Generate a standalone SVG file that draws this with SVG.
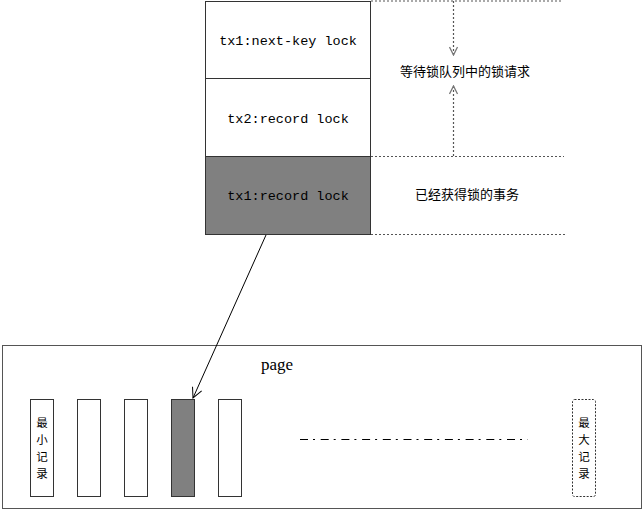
<svg xmlns="http://www.w3.org/2000/svg" width="644" height="511" viewBox="0 0 644 511">
<style>
.mono{font-family:"Liberation Mono","DejaVu Sans Mono",monospace;font-size:13.5px;fill:#000;text-anchor:middle}
.cjk{font-family:"Noto Sans CJK SC","Noto Sans",sans-serif;font-size:13px;fill:#000;text-anchor:middle}
.vt{font-family:"Noto Sans CJK SC","Noto Sans",sans-serif;font-size:11.5px;fill:#000;text-anchor:middle}
.dot{stroke:#555;stroke-width:1.2;stroke-dasharray:2 2;fill:none}
.rec{fill:#fff;stroke:#333;stroke-width:1}
</style>
<defs>
<marker id="openv" viewBox="0 0 10 10" refX="9" refY="5" markerWidth="10" markerHeight="10" markerUnits="userSpaceOnUse" orient="auto">
<path d="M1,1 L9,5 L1,9" fill="none" stroke="#777" stroke-width="1.3"/>
</marker>
<marker id="arr" viewBox="0 0 12 12" refX="11" refY="6" markerWidth="12" markerHeight="12" markerUnits="userSpaceOnUse" orient="auto">
<path d="M1,1 L11,6 L1,11" fill="none" stroke="#000" stroke-width="1"/>
</marker>
</defs>
<rect width="644" height="511" fill="#fff"/>
<g id="lock-queue">
<g id="row1"><rect x="205.5" y="1.5" width="165" height="77" fill="#fff" stroke="#333"/><text class="mono" x="288" y="45">tx1:next-key lock</text></g>
<g id="row2"><rect x="205.5" y="78.5" width="165" height="78" fill="#fff" stroke="#333"/><text class="mono" x="288" y="123">tx2:record lock</text></g>
<g id="row3"><rect x="205.5" y="156.5" width="165" height="78" fill="#808080" stroke="#333"/><text class="mono" x="288" y="200">tx1:record lock</text></g>
</g>
<g id="labels">
<text class="cjk" x="465" y="76">等待锁队列中的锁请求</text>
<text class="cjk" x="467" y="199">已经获得锁的事务</text>
</g>
<g id="page">
<rect x="2.5" y="345.5" width="639" height="163" fill="#fff" stroke="#555"/>
<text x="277" y="370" font-family="Liberation Serif,serif" font-size="17" text-anchor="middle">page</text>
<g id="rec-min"><rect class="rec" x="30.5" y="399.5" width="23" height="97"/>
<text class="vt" x="42" y="427">最</text><text class="vt" x="42" y="444">小</text><text class="vt" x="42" y="461">记</text><text class="vt" x="42" y="478">录</text></g>
<g id="rec2"><rect class="rec" x="77.5" y="399.5" width="23" height="97"/></g>
<g id="rec3"><rect class="rec" x="124.5" y="399.5" width="23" height="97"/></g>
<g id="rec4"><rect x="171.5" y="399.5" width="23" height="97" fill="#808080" stroke="#333"/></g>
<g id="rec5"><rect class="rec" x="218.5" y="399.5" width="23" height="97"/></g>
<g id="rec-max"><rect x="572.5" y="399.5" width="23" height="97" rx="2" fill="#fff" stroke="#333" stroke-dasharray="2 1.5"/>
<text class="vt" x="584" y="427">最</text><text class="vt" x="584" y="444">大</text><text class="vt" x="584" y="461">记</text><text class="vt" x="584" y="478">录</text></g>
<line x1="300" y1="439.5" x2="528" y2="439.5" stroke="#000" stroke-width="1" stroke-dasharray="8 5 2 5.7"/>
</g>
<g id="connectors">
<line class="dot" x1="371" y1="1" x2="561" y2="1"/>
<line class="dot" x1="371" y1="156.5" x2="564" y2="156.5"/>
<line class="dot" x1="371" y1="234.5" x2="567" y2="234.5"/>
<line class="dot" x1="453.5" y1="1" x2="453.5" y2="55" marker-end="url(#openv)"/>
<line class="dot" x1="453.5" y1="156" x2="453.5" y2="86" marker-end="url(#openv)"/>
<line x1="266" y1="235" x2="193" y2="398" stroke="#000" stroke-width="1" marker-end="url(#arr)"/>
</g>
</svg>
